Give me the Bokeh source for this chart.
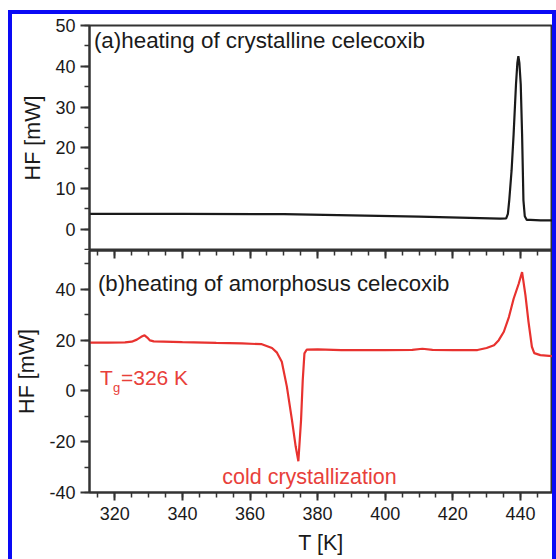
from bokeh.plotting import figure
from bokeh.layouts import column, row
from bokeh.models import LinearAxis, SingleIntervalTicker, Range1d, CustomJSTickFormatter, Spacer
from bokeh.core.properties import value
from bokeh.embed import file_html
from bokeh.resources import INLINE

FONT = "Liberation Sans"

# ---- data: panel (a) heating of crystalline celecoxib ----
T_a = [312.5, 320, 340, 370, 390, 410, 425, 434, 435.8, 436.3, 436.7, 437.4, 438.0,
       438.7, 439.1, 439.4, 439.7, 440.1, 440.5, 440.9, 441.3, 441.9, 443, 446, 449.5]
HF_a = [3.8, 3.8, 3.8, 3.7, 3.4, 3.1, 2.8, 2.6, 2.7, 3.8, 7.1, 14.5, 23.4,
        35.6, 40.8, 42.5, 40.8, 35.6, 23.4, 7.1, 3.2, 2.3, 2.3, 2.2, 2.2]

# ---- data: panel (b) heating of amorphous celecoxib ----
T_b = [312.5, 318, 323, 325, 326.5, 327.8, 328.8, 329.6, 330.4, 331.5, 340, 350, 357.6,
       363.5, 366.5, 367.9, 369.4, 370.9, 372.4, 373.5, 374.3, 375.1, 375.6, 376.1,
       376.8, 380, 387, 400, 408, 411, 414, 420, 427.3, 430, 432.2, 433.6, 435.1,
       436.6, 438.0, 439.5, 440.5, 441.5, 442.4, 443.4, 444.1, 445.9, 449.5]
HF_b = [19.0, 19.0, 19.1, 19.4, 20.2, 21.3, 21.9, 21.0, 19.9, 19.5, 19.2, 18.9, 18.7,
        18.4, 16.9, 15.2, 11.5, 1.7, -11.4, -21.8, -27.7, -11.4, 4.3, 14.8,
        16.3, 16.4, 16.1, 16.1, 16.2, 16.6, 16.2, 16.1, 16.1, 16.9, 18.0, 20.0, 23.3,
        29.1, 36.3, 42.2, 46.8, 37.6, 27.2, 17.4, 14.9, 14.1, 13.7]

x_range = (312.5, 449.5)
y_range_a = (-5.2, 50.0)
y_range_b = (-40, 55.3)
y_ticks_a = 10
y_ticks_b = 20
x_ticks = 20

title_a = "(a)heating of crystalline celecoxib"
title_b = "(b)heating of amorphosus celecoxib"
tg_parts = ["T", "g", "=326 K"]
cold_label = "cold crystallization"
y_label = "HF [mW]"
x_label = "T [K]"

BLACK = "#1a1a1a"
AXIS = "#333333"
RED = "#e8322f"
RED_TXT = "#e8403a"
BLUE = "#0a0af5"

fmt_code = "return tick.toFixed(0);"


def style_y(ax, interval):
    ax.ticker = SingleIntervalTicker(interval=interval, num_minor_ticks=2)
    ax.formatter = CustomJSTickFormatter(code=fmt_code)
    ax.axis_line_color = AXIS
    ax.axis_line_width = 2
    ax.major_tick_line_color = AXIS
    ax.minor_tick_line_color = AXIS
    ax.major_tick_line_width = 2
    ax.minor_tick_line_width = 1.5
    ax.major_tick_out = 9
    ax.major_tick_in = 0
    ax.minor_tick_out = 5
    ax.minor_tick_in = 0
    ax.major_label_text_font = FONT
    ax.major_label_text_font_size = "18px"
    ax.major_label_text_color = BLACK
    ax.major_label_standoff = 5
    ax.axis_label = y_label
    ax.axis_label_text_font = FONT
    ax.axis_label_text_font_size = "21.5px"
    ax.axis_label_text_font_style = "normal"
    ax.axis_label_text_color = BLACK
    ax.axis_label_standoff = 7


common = dict(output_backend="svg", toolbar_location=None, width=540,
              min_border_left=75, min_border_right=0,
              background_fill_color="white", border_fill_color="white",
              outline_line_color=AXIS, outline_line_width=2)

xr = Range1d(*x_range)

pa = figure(height=236, x_range=xr, y_range=Range1d(*y_range_a),
            x_axis_location=None, min_border_top=11, min_border_bottom=0, **common)
pa.xgrid.visible = False
pa.ygrid.visible = False
style_y(pa.yaxis[0], y_ticks_a)
pa.line(T_a, HF_a, line_color=BLACK, line_width=2.2)
pa.text([313.8], [46.3], text=[title_a], text_font=value(FONT), text_font_size="22.4px",
        text_color=BLACK, text_baseline="middle", text_align="left")

pb = figure(height=309, x_range=xr, y_range=Range1d(*y_range_b),
            min_border_top=0, min_border_bottom=67, **common)
pb.xgrid.visible = False
pb.ygrid.visible = False
style_y(pb.yaxis[0], y_ticks_b)
xa = pb.xaxis[0]
xa.ticker = SingleIntervalTicker(interval=x_ticks, num_minor_ticks=4)
xa.formatter = CustomJSTickFormatter(code=fmt_code)
xa.axis_line_color = AXIS
xa.axis_line_width = 2
xa.major_tick_line_color = AXIS
xa.minor_tick_line_color = AXIS
xa.major_tick_line_width = 2
xa.minor_tick_line_width = 1.5
xa.major_tick_out = 8
xa.major_tick_in = 0
xa.minor_tick_out = 5
xa.minor_tick_in = 0
xa.major_label_text_font = FONT
xa.major_label_text_font_size = "18px"
xa.major_label_text_color = BLACK
xa.major_label_standoff = 6
xa.axis_label = x_label
xa.axis_label_text_font = FONT
xa.axis_label_text_font_size = "21.5px"
xa.axis_label_text_font_style = "normal"
xa.axis_label_text_color = BLACK
xa.axis_label_standoff = 8

top = LinearAxis(ticker=SingleIntervalTicker(interval=x_ticks, num_minor_ticks=4),
                 major_label_text_font_size="1px", major_label_text_color=None,
                 major_label_text_alpha=0, major_label_standoff=0,
                 major_tick_in=8, major_tick_out=0, minor_tick_in=5, minor_tick_out=0,
                 axis_line_color=AXIS, axis_line_width=2,
                 major_tick_line_color=AXIS, minor_tick_line_color=AXIS,
                 major_tick_line_width=2, minor_tick_line_width=1.5)
pb.add_layout(top, "above")

pb.line(T_b, HF_b, line_color=RED, line_width=2.2)
pb.text([315.0], [42.4], text=[title_b], text_font=value(FONT), text_font_size="22.2px",
        text_color=BLACK, text_baseline="middle", text_align="left")
pb.text([315.6], [5.1], text=[tg_parts[0]], text_font=value(FONT), text_font_size="21px",
        text_color=RED_TXT, text_baseline="middle", text_align="left")
pb.text([315.6], [5.1], text=[tg_parts[1]], text_font=value(FONT), text_font_size="13px",
        text_color=RED_TXT, text_baseline="middle", text_align="left",
        x_offset=13, y_offset=10)
pb.text([315.6], [5.1], text=[tg_parts[2]], text_font=value(FONT), text_font_size="21px",
        text_color=RED_TXT, text_baseline="middle", text_align="left", x_offset=21)
pb.text([377.6], [-33.7], text=[cold_label], text_font=value(FONT), text_font_size="21.5px",
        text_color=RED_TXT, text_baseline="middle", text_align="center")


def blue(w, h):
    return Spacer(width=w, height=h, styles={"background-color": BLUE})


inner = column(blue(540, 4), pa, pb, spacing=0)
body = row(Spacer(width=8, height=549), blue(4, 549), inner, blue(4, 549), spacing=0)
layout = column(Spacer(width=556, height=10), body, spacing=0)

open("out.html", "w").write(file_html(layout, INLINE))
